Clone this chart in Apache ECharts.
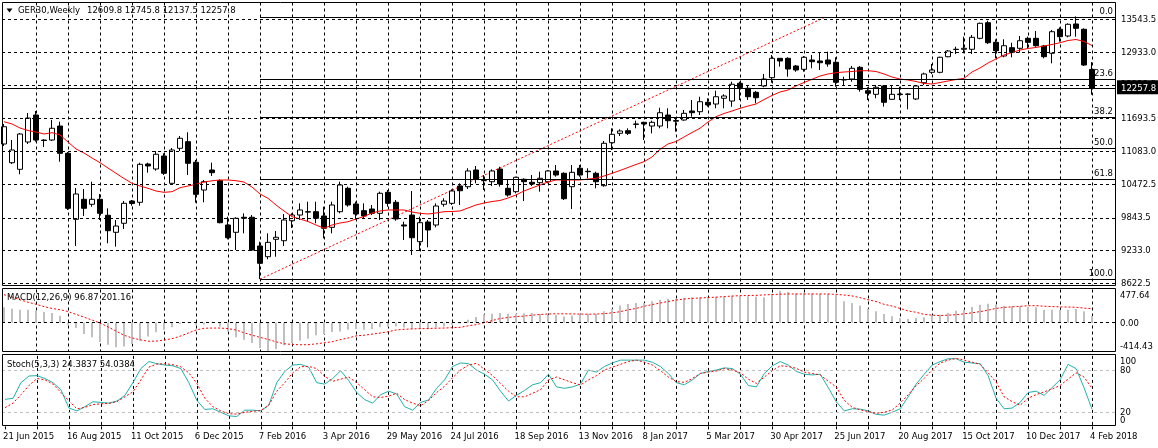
<!DOCTYPE html>
<html><head><meta charset="utf-8">
<script src="https://cdn.jsdelivr.net/npm/echarts@6/dist/echarts.min.js"></script>
<style>html,body{margin:0;padding:0;background:#fff}#c{width:1158px;height:448px}</style>
</head><body><div id="c"></div>
<script>
const symbolName = 'GER30,Weekly';
const dateLabels = ['21 Jun 2015','16 Aug 2015','11 Oct 2015','6 Dec 2015','7 Feb 2016','3 Apr 2016','29 May 2016','24 Jul 2016','18 Sep 2016','13 Nov 2016','8 Jan 2017','5 Mar 2017','30 Apr 2017','25 Jun 2017','20 Aug 2017','15 Oct 2017','10 Dec 2017','4 Feb 2018'];
const opens = [11219,10870,10747,11256,11759,11293,11293,11554,11045,9815,
10188,10095,10188,9890,9573,9741,10156,10132,10846,10753,
10995,10486,11139,11262,10878,10361,10734,10535,9709,9573,
9853,9853,9318,9118,9442,9416,9789,9895,9957,9957,
9877,9666,9957,10393,10100,9976,10007,9927,10318,10132,
9710,9895,9398,9765,9709,10095,10113,10436,10423,10734,
10540,10516,10753,10393,10330,10561,10505,10498,10516,10716,
10673,10423,10766,10710,10673,10442,11243,11418,11467,11592,
11623,11554,11554,11759,11655,11666,11834,11821,11996,11964,
12071,12020,12350,12257,12182,12300,12455,12816,12816,12673,
12611,12785,12766,12785,12742,12420,12430,12648,12212,12145,
12300,12052,12150,12150,12058,12361,12555,12555,12846,12985,
12984,12984,13189,13480,13114,12859,13014,13003,13189,13189,
13046,12910,13357,13232,13456,13357,12609.8];
const highs = [11592,11293,11424,11797,11834,11306,11666,11634,11070,10399,
10380,10516,10287,10020,9802,10156,10175,10870,10870,11088,
11045,11144,11368,11437,10921,10548,10870,10561,9864,9853,
9927,9895,9398,9554,9597,9914,9927,10113,10143,10143,
10050,10143,10516,10423,10143,10113,10082,10330,10361,10175,
9771,10343,9864,9802,10113,10207,10374,10486,10766,10809,
10641,10747,10796,10561,10609,10580,10641,10703,10734,10827,
10691,10827,10827,10766,10703,11275,11511,11493,11511,11653,
11634,11653,11895,11884,11698,11853,12039,12100,12071,12212,
12145,12380,12380,12300,12207,12524,12878,12820,12835,12691,
12859,12878,12921,12939,12835,12473,12673,12673,12276,12319,
12319,12300,12287,12164,12319,12548,12710,12846,12971,13032,
13219,13251,13480,13517,13170,13170,13107,13232,13219,13325,
13064,13344,13394,13469,13597,13375,12745.8];
const lows = [11182,10846,10654,11219,11262,11163,11275,10889,9989,9318,
9877,10050,9802,9368,9305,9634,10069,10069,10684,10721,
10641,10473,11088,10641,10125,10132,10622,9741,9442,9243,
9554,9224,8699,9070,9118,9318,9653,9802,9771,9741,
9461,9554,9927,10050,9802,9834,9895,9802,10050,9789,
9429,9150,9224,9293,9666,10050,10082,10082,10380,10486,
10361,10436,10423,10237,10300,10156,10436,10330,10486,10609,
10175,10007,10609,10580,10393,10423,11107,11368,11387,11511,
11293,11418,11511,11511,11448,11653,11728,11759,11914,11884,
11884,11914,12039,12039,11977,12276,12361,12660,12473,12566,
12566,12630,12598,12660,12287,12300,12380,12194,12039,12071,
11914,12039,12039,11866,12039,12319,12524,12537,12835,12896,
12910,12896,13170,13083,12816,12835,12835,12921,13003,13032,
12816,12723,13126,13208,13219,12673,12137.5];
const closes = [11541,11107,11405,11703,11293,11284,11512,11045,10020,10287,
10020,10188,9927,9603,9690,10113,10110,10840,10809,11027,
10673,11107,11325,10859,10281,10516,10684,9752,9472,9834,
9834,9243,8995,9386,9480,9802,9895,9989,9950,9834,
9648,10082,10455,10082,9914,9877,9927,10300,10113,9821,
9690,9472,9752,9616,10063,10156,10343,10348,10716,10561,
10535,10716,10473,10268,10598,10516,10473,10580,10716,10641,
10199,10691,10641,10703,10516,11232,11400,11461,11418,11585,
11592,11623,11802,11653,11645,11791,11802,12007,11946,12100,
12114,12332,12268,12100,12082,12430,12816,12766,12617,12598,
12835,12753,12734,12710,12369,12412,12630,12238,12164,12276,
11996,12145,12140,12145,12300,12524,12598,12835,12952,12980,
13003,13208,13469,13107,12958,13051,12928,13144,13114,13051,
12846,13312,13219,13450,13375,12691,12257.8];
const maValues = [11634,11592,11517,11470,11442,11405,11430,11387,11256,11126,
11051,10958,10870,10771,10673,10576,10486,10436,10393,10343,
10318,10330,10404,10436,10468,10510,10533,10548,10548,10535,
10510,10417,10287,10207,10082,9970,9864,9821,9774,9709,
9648,9709,9746,9770,9821,9867,9933,9970,9989,9989,
9989,9951,9927,9914,9933,9957,9961,9970,10026,10082,
10119,10147,10166,10212,10268,10343,10399,10455,10511,10548,
10548,10548,10548,10566,10580,10622,10673,10725,10781,10837,
10889,10977,11120,11219,11265,11349,11433,11512,11629,11728,
11787,11834,11884,11927,11964,12048,12123,12188,12225,12300,
12365,12425,12486,12524,12548,12561,12570,12585,12585,12570,
12524,12468,12430,12412,12384,12347,12337,12365,12393,12421,
12443,12561,12636,12729,12803,12878,12924,12971,12999,13018,
13046,13074,13107,13148,13167,13129,13055];
const macdMain = [221,201,187,187,177,154,139,101,-30,-77,
-163,-211,-278,-317,-355,-341,-307,-259,-197,-139,
-101,-67,-20,10,-30,-25,15,-53,-125,-211,
-245,-293,-365,-414,-379,-326,-293,-259,-230,-182,
-163,-134,-125,-101,-91,-101,-91,-67,-60,-55,
-70,-90,-85,-95,-70,-55,-30,-10,43,82,
120,130,140,130,125,135,140,125,115,110,
90,105,120,130,125,163,201,249,269,283,
283,307,331,345,345,355,365,365,365,374,
374,389,389,379,374,365,413,460,440,425,
430,425,420,415,403,307,283,249,201,163,
125,91,67,53,67,77,106,115,139,173,
187,225,259,273,259,245,235,235,225,221,
187,187,187,187,197,163,96.87];
const macdSignal = [403,370,330,295,265,232,205,187,160,120,
80,38,-5,-60,-120,-180,-220,-245,-267,-265,
-250,-230,-195,-150,-105,-80,-77,-77,-85,-105,
-145,-180,-211,-240,-275,-303,-313,-317,-317,-305,
-290,-275,-245,-220,-190,-180,-165,-150,-130,-105,
-95,-90,-86,-83,-80,-77,-72,-67,-45,-29,
0,30,60,75,88,95,108,118,125,128,
128,126,124,122,124,130,142,158,185,205,
235,260,283,305,325,340,350,355,362,367,
375,383,389,391,393,400,405,410,413,413,
413,413,413,413,408,398,385,360,330,305,
265,240,205,170,150,120,108,102,108,115,
128,142,160,180,205,220,228,235,245,245,
237,232,228,225,222,210,201.16];
const stochMain = [38.4,39.8,62,71.5,72,68,62,52,26,22,
28,35,34,33,36,44,62,82,92,89,
87,86,82,62,37,24,25,20,15,14,
23,23,22,30,62,78,87,88,84,62,
60,68,79,65,48,38,33,45,50,46,
28,23,34,37.5,54,66,85,90,89,80,
74,66,50,36,44,51,59,62,74,56,
54,56,60,80,77,85,90,94,94,94,
94,91,85,75,62,59,66,75,78,80,
83,82,74,58,56,75,86,92,87,78,
74,73,74,55,35,22,25,24.5,22,17,
16,20,25,42,60,74,87,92,96,96,
91,90,89,72,40,25,26,34,48,50,
44,55,66,88,82,55,24.3837];
const stochSignal = [26.6,33,45,58,68,66,60,48,36,25,
27,31,32,32.7,35,42,49,66,84,88.5,
89,87.5,84.5,76,61,40,28,22,18,17.5,
20,21.5,22.5,30,50,62,76,84.7,85,82,
71,64,67,70,62,52,42,41,43,47,
38,33,29.4,37,48,57,69,80,87,89.5,
81,72,61,50,42,42,47,52,66,70,
66,62,58.7,66,72,80,84,88,92,94,
91,87,79,70,63.5,62.5,68,75,77,78.6,
82,80,76,67,61,70,79,86,85,82.4,
77,75,73,64,56,37,27,23.5,21,18.5,
20,23.3,33,45,58,68,80,90,94,96.5,
94,91,88,76,63,42,35,30,40,45,
49,53,58,67,76,70,54.0384];
const priceTicks = [13543.5,12933.0,12322.5,11693.5,11083.0,10472.5,9843.5,9233.0,8622.5];
const macdTicks = [477.64,0,-414.43];
const stochTicks = [100,80,20,0];
const stochLevels = [80,20];
const fibLow = {bar:32, price:8699};
const fibHigh = {bar:102.6, price:13580};
const fibLevels = [0,23.6,38.2,50,61.8,100];

const N = 140;
const cats = Array.from({length:N},(_,i)=>i);
const ohlc = opens.map((o,i)=>[o,closes[i],lows[i],highs[i]]);
const FONT = 'DejaVu Sans', FS = 8.5;
const last = closes.length-1;
const bid = closes[last];

const vert = [{top:2.5, height:283},{top:289.5, height:62},{top:355.9, height:70.5}];
const grids = [
  ...vert.map(v=>({left:4, width:1112, top:v.top, height:v.height, show:false})),
  ...vert.map(v=>({left:2, width:1114, top:v.top, height:v.height, show:false}))
];
const XMIN = -0.25, XMAX = N-1;
const panels = [[2.5,2.5,1113,283],[2.5,288.5,1113,63],[2.5,354.5,1113,71]];
const vInt = (i)=> i%4===0 && i>0 && i<=last;
function catAxis(g){
  return {type:'category', gridIndex:g, data:cats, boundaryGap:false,
    axisLine:{show:false},
    axisTick: g===2 ? {show:true, interval:(i)=>i%4===0 && i<=last, length:3, lineStyle:{color:'#000'}} : {show:false},
    axisLabel: g===2 ? {show:true, interval:(i)=>i%8===0 && i<=last,
      formatter:(v,i)=> (i%8===0 && dateLabels[i/8]) ? dateLabels[i/8] : '',
      align:'left', verticalAlign:'middle', margin:10.3, fontFamily:FONT, fontSize:FS, color:'#000', padding:[0,0,0,-2]} : {show:false},
    splitLine:{show:true, interval:vInt, lineStyle:{color:'#000', width:1, type:[3,3]}}
  };
}
const hLine = (v, style, x0=XMIN, x1=XMAX)=>[{coord:[x0,v], lineStyle:style},{coord:[x1,v]}];
const dashBlack = {color:'#000', width:1, type:[3,3]};
const solidBlack = {color:'#000', width:1, type:'solid'};
const fibPrice = (l)=> fibHigh.price - l/100*(fibHigh.price-fibLow.price);

const mainLines = [
  ...priceTicks.map(v=>hLine(v,dashBlack)),
  hLine(bid, solidBlack),
  ...fibLevels.map(l=>hLine(fibPrice(l), solidBlack, fibLow.bar))
];
const ml = (data)=>({silent:true, symbol:['none','none'], label:{show:false}, animation:false, emphasis:{disabled:true}, data});
const yMain = {min:8581.3, max:13856.4}, yMacd = {min:-414.43, max:477.64}, ySto = {min:0, max:100};
const yDefs = [yMain, yMacd, ySto];

const option = {
  animation:false,
  backgroundColor:'#ffffff',
  grid: grids,
  xAxis: [catAxis(0),catAxis(1),catAxis(2),
    ...[3,4,5].map(gi=>({type:'value',gridIndex:gi,min:XMIN,max:XMAX,show:false}))],
  yAxis: [
    ...yDefs.map((d,i)=>({type:'value',gridIndex:i,min:d.min,max:d.max,show:false})),
    ...yDefs.map((d,i)=>({type:'value',gridIndex:3+i,min:d.min,max:d.max,show:false}))],
  series: [
    {type:'line', xAxisIndex:3, yAxisIndex:3, z:2, symbol:'none',
     data:[[fibLow.bar,fibLow.price],[fibHigh.bar,fibHigh.price]],
     lineStyle:{color:'#ff0000', width:1, type:[2,2]}, markLine: ml(mainLines)},
    {type:'candlestick', xAxisIndex:0, yAxisIndex:0, data:ohlc, barWidth:5, z:3,
     itemStyle:{color:'#ffffff', color0:'#000000', borderColor:'#000000', borderColor0:'#000000', borderColorDoji:'#000000', borderWidth:1}},
    {type:'line', xAxisIndex:0, yAxisIndex:0, data:maValues, symbol:'none', z:4,
     lineStyle:{color:'#ff0000', width:1}},
    {type:'line', xAxisIndex:4, yAxisIndex:4, data:[[0,0]], symbol:'none', z:1,
     markLine: ml([hLine(0,dashBlack)])},
    {type:'bar', xAxisIndex:1, yAxisIndex:1, data:macdMain, barWidth:2, z:2, itemStyle:{color:'#c0c0c0'}},
    {type:'line', xAxisIndex:1, yAxisIndex:1, data:macdSignal, symbol:'none', z:4,
     lineStyle:{color:'#ff0000', width:1, type:[2,2]}},
    {type:'line', xAxisIndex:5, yAxisIndex:5, data:[[0,50]], symbol:'none', z:1,
     markLine: ml(stochLevels.map(v=>hLine(v,{color:'#c0c0c0', width:1, type:[3,3]})))},
    {type:'line', xAxisIndex:2, yAxisIndex:2, data:stochMain, symbol:'none', z:4,
     lineStyle:{color:'#20b2aa', width:1}},
    {type:'line', xAxisIndex:2, yAxisIndex:2, data:stochSignal, symbol:'none', z:5,
     lineStyle:{color:'#ff0000', width:1, type:[2,2]}}
  ]
};
const chart = echarts.init(document.getElementById('c'));
chart.setOption(option);

const py = (yi, v)=> chart.convertToPixel({xAxisIndex:3+yi, yAxisIndex:3+yi},[0,v])[1];
const g = [];
const txt = (x,y,text,o={})=>g.push({type:'text', x, y, z:o.z||100, silent:true,
  style:{text, fill:o.fill||'#000', fontSize:FS, fontFamily:FONT, align:o.align||'left', verticalAlign:'middle', textAlign:o.align||'left', textVerticalAlign:'middle'}});
panels.forEach(p=>g.push({type:'rect', z:90, silent:true, shape:{x:p[0],y:p[1],width:p[2],height:p[3]}, style:{fill:'none', stroke:'#000', lineWidth:1}}));
g.push({type:'polygon', z:100, silent:true, shape:{points:[[6.5,8.5],[12.5,8.5],[9.5,12.5]]}, style:{fill:'#000'}});
txt(18, 10.7, symbolName);
txt(87, 10.7, [opens[last],highs[last],lows[last],closes[last]].map(v=>v.toFixed(1)).join(' '));
priceTicks.forEach(v=>txt(1121, py(0,v)+0.5, v.toFixed(1)));
fibLevels.forEach(l=>txt(1113, py(0,fibPrice(l))-5.5, l.toFixed(1), {align:'right'}));
const by = py(0,bid);
g.push({type:'rect', z:101, silent:true, shape:{x:1117, y:by-8, width:41, height:14}, style:{fill:'#000'}});
txt(1121, by+0.5, bid.toFixed(1), {fill:'#fff', z:102});
txt(7, 298, `MACD(12,26,9) ${macdMain[last].toFixed(2)} ${macdSignal[last].toFixed(2)}`);
txt(7, 365, `Stoch(5,3,3) ${stochMain[last].toFixed(4)} ${stochSignal[last].toFixed(4)}`);
const clampY = (y,p)=> Math.min(Math.max(y, p[1]+7), p[1]+p[3]-5);
macdTicks.forEach(v=>txt(1120, clampY(py(1,v)+0.8, panels[1]), v.toFixed(2)));
stochTicks.forEach(v=>txt(1120, clampY(py(2,v)+0.3, panels[2]), String(v)));
chart.setOption({graphic: g});
</script>
</body></html>
